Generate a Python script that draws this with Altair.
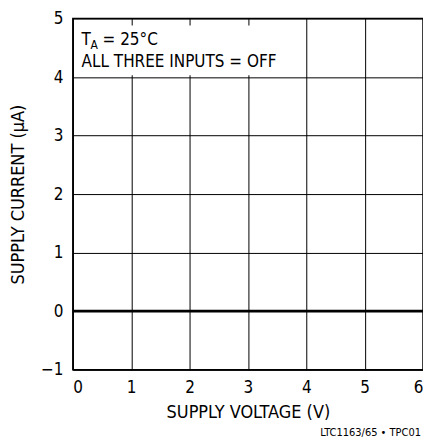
import altair as alt
import pandas as pd

# Data
volts = [0, 1, 2, 3, 4, 5, 6]
current = [0, 0, 0, 0, 0, 0, 0]
x_ticks = [0, 1, 2, 3, 4, 5, 6]
y_ticks = [-1, 0, 1, 2, 3, 4, 5]

FONT = "DejaVu Sans Condensed, Roboto, Liberation Sans"

df = pd.DataFrame({"v": volts, "i": current})

xs = alt.Scale(domain=[0, 6], nice=False)
ys = alt.Scale(domain=[-1, 5], nice=False)

xax = alt.Axis(values=x_ticks, title="SUPPLY VOLTAGE (V)", ticks=False, labelPadding=10,
               labelFontSize=17, titleFontSize=18, titlePadding=8, grid=True, format="d",
               gridColor="black", gridOpacity=1, domainColor="black", labelColor="black",
               titleColor="black", titleFontWeight="normal", labelFont=FONT, titleFont=FONT)
yax = alt.Axis(values=y_ticks, title="SUPPLY CURRENT (µA)", ticks=False, labelPadding=10,
               labelFontSize=17, titleFontSize=18, titlePadding=13, grid=True, format="d",
               gridColor="black", gridOpacity=1, domainColor="black", labelColor="black",
               titleColor="black", titleFontWeight="normal", labelFont=FONT, titleFont=FONT,
               labelExpr="datum.value < 0 ? '\u2212' + abs(datum.value) : datum.label")

line = alt.Chart(df).mark_line(color="black", strokeWidth=3).encode(
    x=alt.X("v:Q", scale=xs, axis=xax),
    y=alt.Y("i:Q", scale=ys, axis=yax),
)

box = alt.Chart(pd.DataFrame({"x": [0.02], "x2": [3.6], "y": [4.03], "y2": [4.88]})).mark_rect(
    color="white").encode(x=alt.X("x:Q", scale=xs), x2="x2:Q",
                          y=alt.Y("y:Q", scale=ys), y2="y2:Q")

ann = pd.DataFrame({
    "x": [0.15, 0.15, 0.15, 0.15],
    "y": [4.54, 4.54, 4.54, 4.165],
    "t": ["T", "A", "= 25°C", "ALL THREE INPUTS = OFF"],
    "dx": [0, 9, 21, 0],
    "dy": [0, 4, 0, 0],
    "fs": [17, 12, 17, 17],
})

texts = []
for _, r in ann.iterrows():
    texts.append(
        alt.Chart(pd.DataFrame([r])).mark_text(
            align="left", baseline="alphabetic", font=FONT, fontSize=float(r["fs"]),
            dx=float(r["dx"]), dy=float(r["dy"]), color="black"
        ).encode(x=alt.X("x:Q", scale=xs), y=alt.Y("y:Q", scale=ys), text="t:N")
    )

chart = alt.layer(line, box, *texts).properties(
    width=351, height=352,
    autosize=alt.AutoSizeParams(type="none"),
    padding={"left": 65, "top": 10, "right": 0, "bottom": 72},
    title=alt.TitleParams("LTC1163/65 • TPC01", orient="bottom", anchor="end",
                          fontSize=11, font=FONT, fontWeight="normal", color="black",
                          offset=6, dx=-8),
).configure_view(stroke="black", strokeWidth=1.5)

chart.save("out.html", embed_options={"renderer": "svg", "actions": False})
